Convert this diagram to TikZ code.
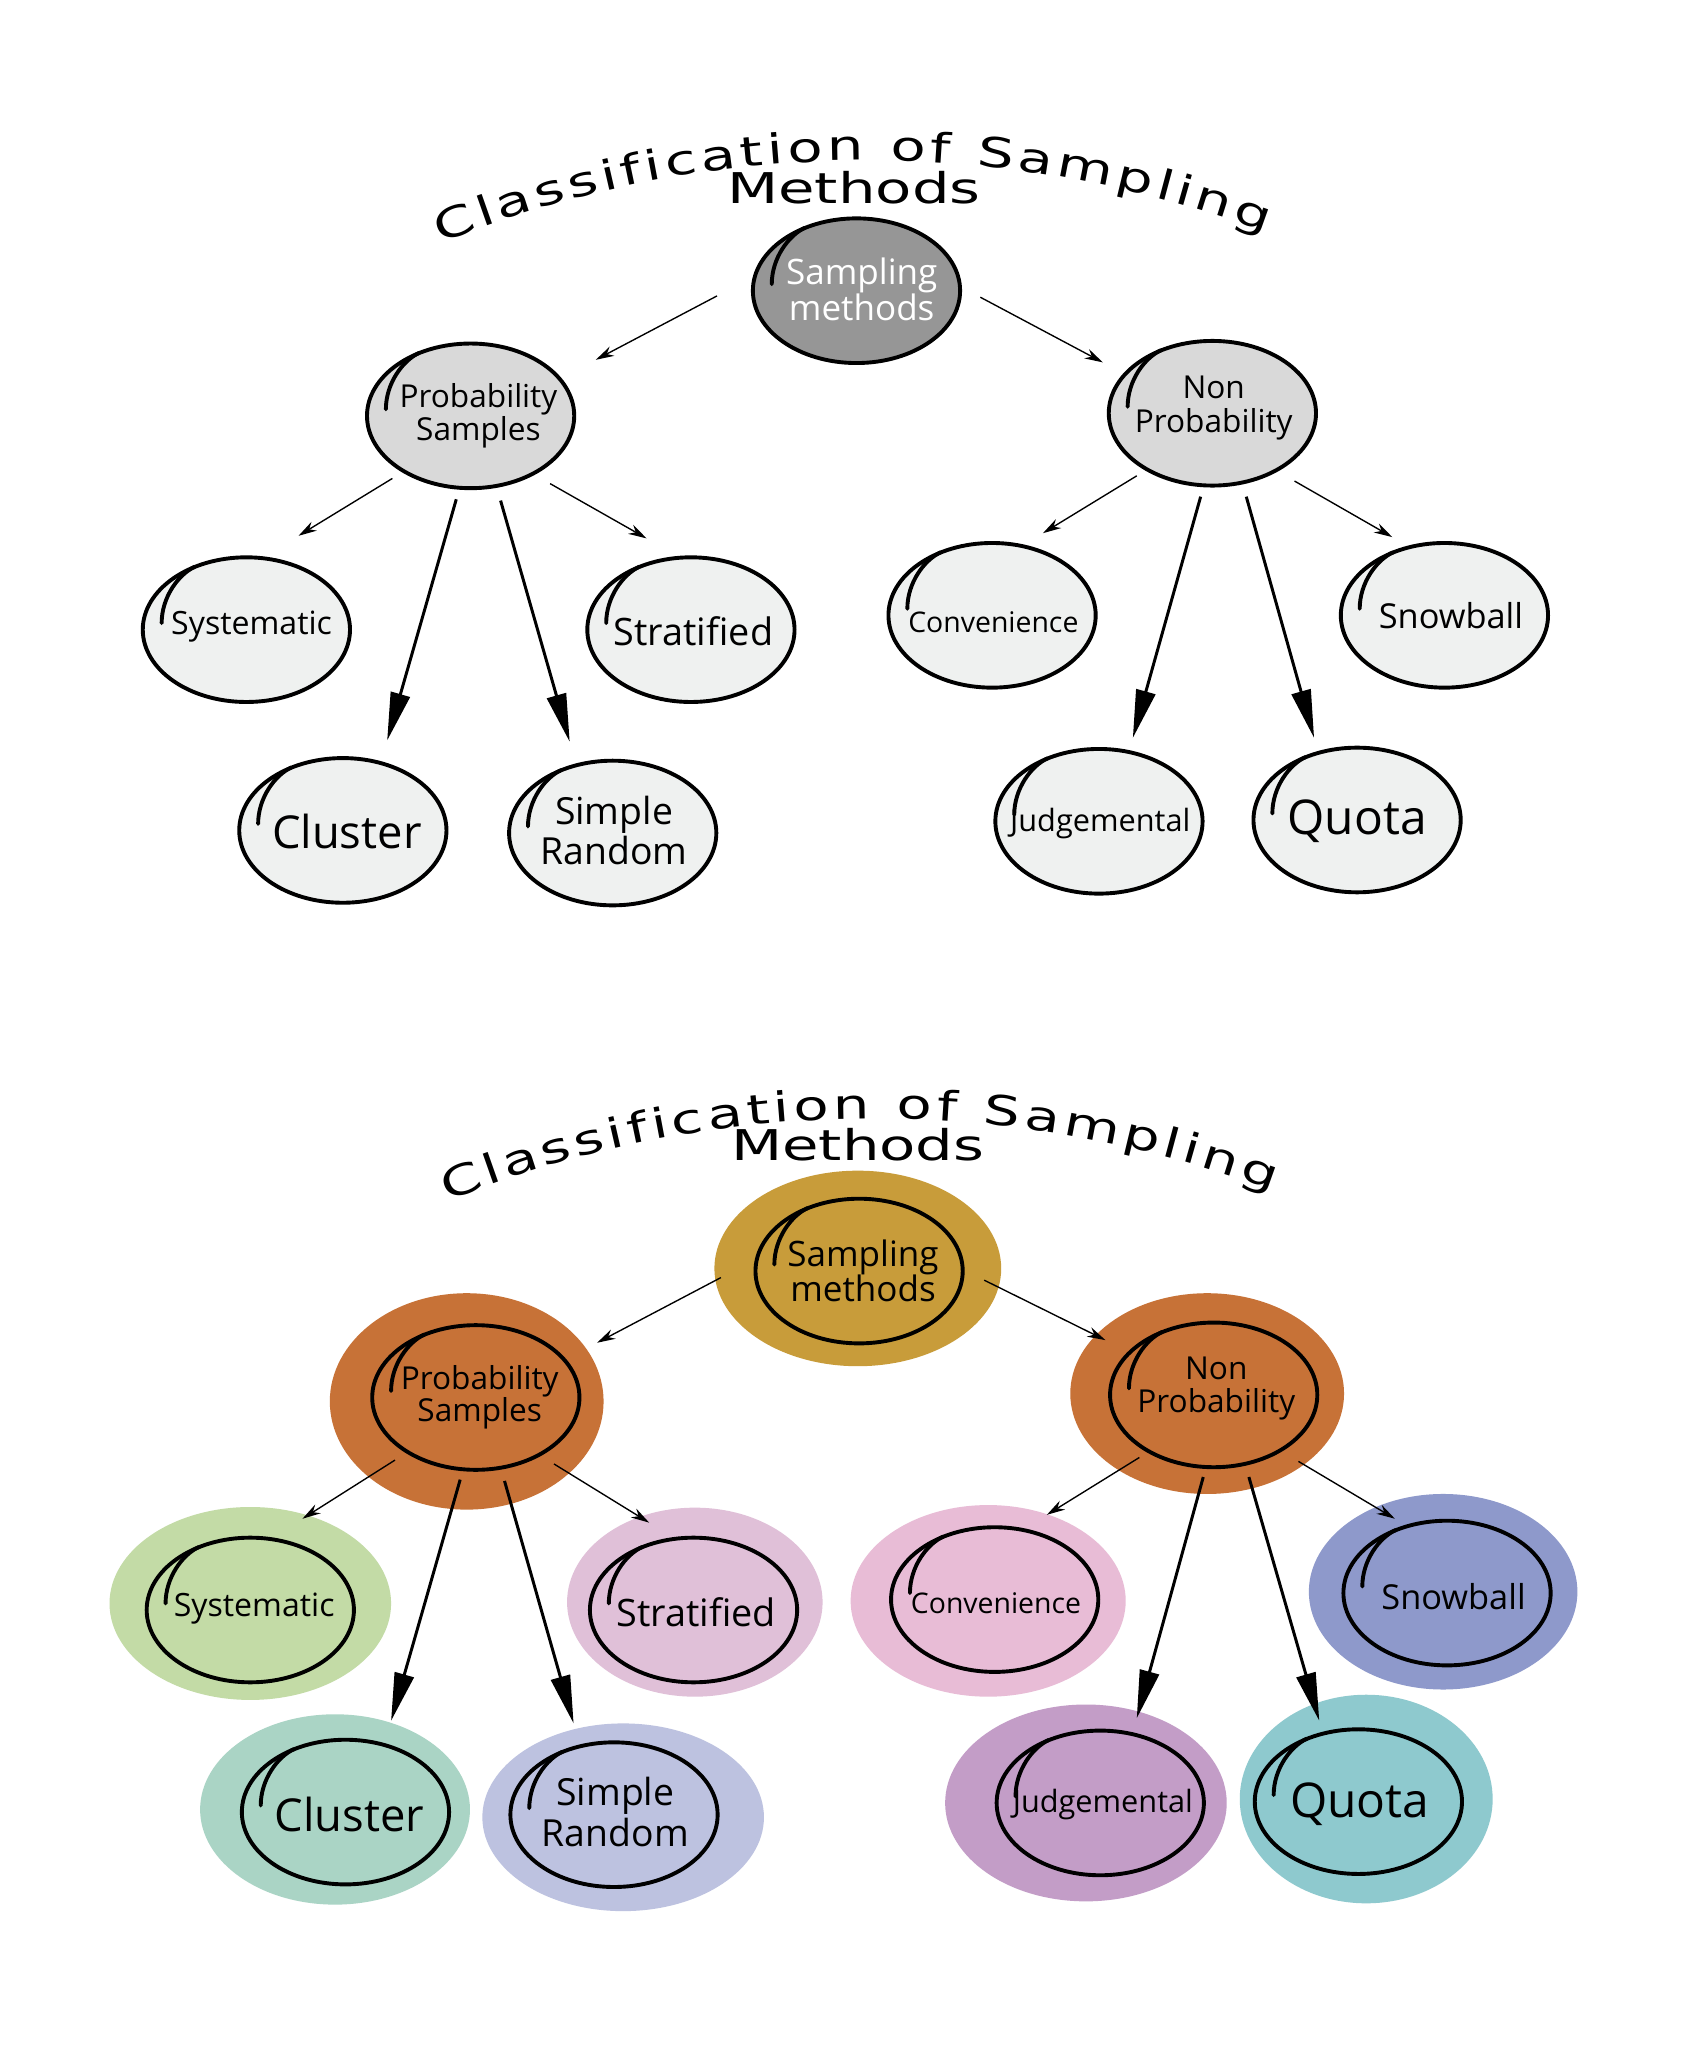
\documentclass[tikz,border=0pt]{standalone}
\usepackage{fontspec}
\usetikzlibrary{shapes.geometric,arrows.meta,decorations.text,calc}
\newfontfamily\nodefont{Open Sans}
\newfontfamily\titlefont[FakeStretch=1.4]{DejaVu Sans}
\definecolor{cgray}{HTML}{969696}
\definecolor{cmid}{HTML}{D9D9D9}
\definecolor{cleaf}{HTML}{EFF1F0}
\definecolor{cgold}{HTML}{C89C3A}
\definecolor{corange}{HTML}{C77237}
\definecolor{cgreen}{HTML}{C3DBA6}
\definecolor{cstrat}{HTML}{E0C0D8}
\definecolor{cconv}{HTML}{E8BCD6}
\definecolor{csnow}{HTML}{8E99CB}
\definecolor{cclus}{HTML}{AAD4C5}
\definecolor{csimp}{HTML}{BDC2E0}
\definecolor{cjudg}{HTML}{C39DC7}
\definecolor{cquota}{HTML}{8EC9CE}
\newcommand\fs[2]{\nodefont\fontsize{#1}{#2}\selectfont}
\newcommand\curlat[1]{\draw[curlst] ($(#1.center)+(-39.5,-48.3)$) .. controls ($(#1.center)+(-52,-42.5)$) and ($(#1.center)+(-65,-25)$) .. ($(#1.center)+(-65,-5)$);}
\newcommand\arr[6]{\coordinate (#2s) at (#3,#4); \coordinate (#2e) at (#5,#6); \draw[#1] (#2s) -- (#2e);}
\newcommand\halo[6]{\node[halo, fill=#6, minimum width=#4*0.02cm, minimum height=#5*0.02cm] (#1) at (#2,#3) {};}
\begin{document}
\begin{tikzpicture}[x=0.02cm,y=-0.02cm,
  blob/.style={ellipse, draw=black, line width=1.7pt, inner sep=0pt, minimum width=3.18cm, minimum height=2.22cm},
  halo/.style={ellipse, draw=none, inner sep=0pt},
  lbl/.style={align=center, inner sep=0pt, text=black},
  curlst/.style={line width=1.7pt, line cap=round},
  thinarr/.style={line width=0.6pt, -{Stealth[length=8pt,width=4.5pt]}},
  bigarr/.style={line width=1.3pt, -{Triangle[length=21pt,width=8.5pt]}},
  ttl/.style={decorate, decoration={text along path, text align=fit to path,
     text={|\titlefont\fontsize{18pt}{22pt}\selectfont|Classification of Sampling}}}
]
\useasboundingbox[fill=white] (0,0) rectangle (1300,1571);

% ---------------- top diagram ----------------
\path[ttl] (338,186.6) arc[start angle=-112, end angle=-69.5, radius=873];
\node[anchor=base, inner sep=0pt, font=\titlefont\fontsize{18.5pt}{22pt}\selectfont] (ttop) at (655,156) {Methods};

\node[blob, fill=cgray] (sm) at (657,223) {}; \curlat{sm}
\node[lbl, text=white, font=\fs{15.3pt}{15.5pt}] (smt) at (661,222) {Sampling\\methods};
\node[blob, fill=cmid] (ps) at (361,319) {}; \curlat{ps}
\node[lbl, font=\fs{13.8pt}{14.2pt}] (pst) at (367,319) {Probability\\Samples};
\node[blob, fill=cmid] (np) at (930,317) {}; \curlat{np}
\node[lbl, font=\fs{13.8pt}{14.6pt}] (npt) at (931,313) {Non\\Probability};
\node[blob, fill=cleaf] (sy) at (189,483) {}; \curlat{sy}
\node[lbl, font=\fs{14pt}{16pt}] (syt) at (193,481) {Systematic};
\node[blob, fill=cleaf] (st) at (530,483) {}; \curlat{st}
\node[lbl, font=\fs{16.5pt}{18pt}] (stt) at (532,484) {Stratified};
\node[blob, fill=cleaf] (cl) at (263,637) {}; \curlat{cl}
\node[lbl, font=\fs{19.8pt}{22pt}] (clt) at (266,638) {Cluster};
\node[blob, fill=cleaf] (sr) at (470,639) {}; \curlat{sr}
\node[lbl, font=\fs{16.3pt}{17.6pt}] (srt) at (471,637) {Simple\\Random};
\node[blob, fill=cleaf] (cv) at (761,472) {}; \curlat{cv}
\node[lbl, font=\fs{12.4pt}{14pt}] (cvt) at (762,477) {Convenience};
\node[blob, fill=cleaf] (sb) at (1108,472) {}; \curlat{sb}
\node[lbl, font=\fs{15pt}{17pt}] (sbt) at (1113,472) {Snowball};
\node[blob, fill=cleaf] (jd) at (843,630) {}; \curlat{jd}
\node[lbl, font=\fs{13.4pt}{15pt}] (jdt) at (844,632) {Judgemental};
\node[blob, fill=cleaf] (qt) at (1041,629) {}; \curlat{qt}
\node[lbl, font=\fs{20.9pt}{23pt}] (qtt) at (1041,630) {Quota};

\arr{thinarr}{ta}{550}{227}{457}{276}
\arr{thinarr}{tb}{752}{228}{846}{278}
\arr{thinarr}{tc}{301}{367}{229}{411}
\arr{thinarr}{td}{422}{371}{496}{413}
\arr{bigarr}{te}{350}{383}{297}{568}
\arr{bigarr}{tf}{384}{384}{437}{569}
\arr{thinarr}{tg}{872}{365}{800}{409}
\arr{thinarr}{th}{993}{369}{1068}{412}
\arr{bigarr}{ti}{921}{381}{869}{566}
\arr{bigarr}{tj}{956}{381}{1008}{566}

% ---------------- bottom diagram ----------------
\path[ttl] (343,921.6) arc[start angle=-112, end angle=-69.5, radius=873];
\node[anchor=base, inner sep=0pt, font=\titlefont\fontsize{18.5pt}{22pt}\selectfont] (tbot) at (658,890) {Methods};

\halo{hsm}{658}{973}{220}{150}{cgold}
\halo{hps}{358}{1075}{210}{166}{corange}
\halo{hnp}{926}{1069}{210}{154}{corange}
\halo{hsy}{192}{1230}{216}{148}{cgreen}
\halo{hst}{533}{1229}{196}{145}{cstrat}
\halo{hcl}{257}{1388}{207}{146}{cclus}
\halo{hsr}{478}{1394}{216}{144}{csimp}
\halo{hcv}{758}{1228}{211}{147}{cconv}
\halo{hsb}{1107}{1221}{206}{150}{csnow}
\halo{hjd}{833}{1383}{216}{151}{cjudg}
\halo{hqt}{1048}{1380}{194}{160}{cquota}

\node[blob] (bsm) at (659,975) {}; \curlat{bsm}
\node[lbl, font=\fs{15.3pt}{15.5pt}] (bsmt) at (662,975) {Sampling\\methods};
\node[blob] (bps) at (365,1072) {}; \curlat{bps}
\node[lbl, font=\fs{13.8pt}{14.2pt}] (bpst) at (368,1072) {Probability\\Samples};
\node[blob] (bnp) at (931,1070) {}; \curlat{bnp}
\node[lbl, font=\fs{13.8pt}{14.6pt}] (bnpt) at (933,1065) {Non\\Probability};
\node[blob] (bsy) at (192,1235) {}; \curlat{bsy}
\node[lbl, font=\fs{14pt}{16pt}] (bsyt) at (195,1234) {Systematic};
\node[blob] (bst) at (532,1235) {}; \curlat{bst}
\node[lbl, font=\fs{16.5pt}{18pt}] (bstt) at (534,1237) {Stratified};
\node[blob] (bcl) at (265,1390) {}; \curlat{bcl}
\node[lbl, font=\fs{19.8pt}{22pt}] (bclt) at (268,1392) {Cluster};
\node[blob] (bsr) at (471,1392) {}; \curlat{bsr}
\node[lbl, font=\fs{16.3pt}{17.6pt}] (bsrt) at (472,1390) {Simple\\Random};
\node[blob] (bcv) at (763,1227) {}; \curlat{bcv}
\node[lbl, font=\fs{12.4pt}{14pt}] (bcvt) at (764,1230) {Convenience};
\node[blob] (bsb) at (1110,1222) {}; \curlat{bsb}
\node[lbl, font=\fs{15pt}{17pt}] (bsbt) at (1115,1225) {Snowball};
\node[blob] (bjd) at (844,1383) {}; \curlat{bjd}
\node[lbl, font=\fs{13.4pt}{15pt}] (bjdt) at (846,1384) {Judgemental};
\node[blob] (bqt) at (1042,1382) {}; \curlat{bqt}
\node[lbl, font=\fs{20.9pt}{23pt}] (bqtt) at (1043,1384) {Quota};

\arr{thinarr}{ba}{553}{980}{458}{1030}
\arr{thinarr}{bb}{755}{982}{848}{1028}
\arr{thinarr}{bc}{303}{1120}{232}{1165}
\arr{thinarr}{bd}{425}{1123}{498}{1168}
\arr{bigarr}{be}{353}{1135}{300}{1320}
\arr{bigarr}{bf}{387}{1136}{440}{1322}
\arr{thinarr}{bg}{874}{1118}{803}{1162}
\arr{thinarr}{bh}{996}{1121}{1070}{1165}
\arr{bigarr}{bi}{923}{1133}{872}{1318}
\arr{bigarr}{bj}{958}{1133}{1012}{1320}
\end{tikzpicture}
\end{document}
